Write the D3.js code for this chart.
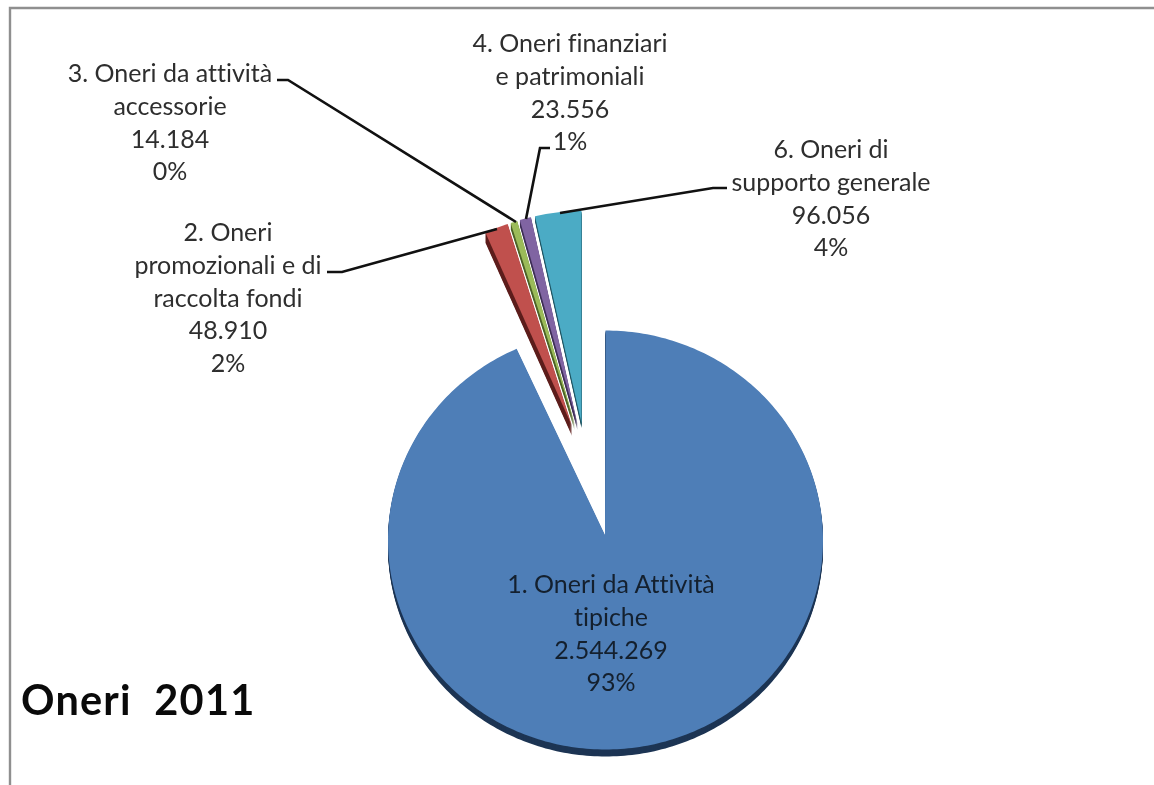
<!DOCTYPE html>
<html>
<head>
<meta charset="utf-8">
<title>Oneri 2011</title>
<script src="https://cdn.jsdelivr.net/npm/d3@7"></script>
<style>
  html, body { margin: 0; padding: 0; background: #fff; }
  svg { display: block; filter: blur(0.75px); }
  text { font-family: Lato, "Open Sans", sans-serif; font-variant-ligatures: none; }
</style>
</head>
<body>
<div id="chart"></div>
<script>
// values
var categories = [
  ['1. Oneri da Attività', 'tipiche'],
  ['2. Oneri', 'promozionali e di', 'raccolta fondi'],
  ['3. Oneri da attività', 'accessorie'],
  ['4. Oneri finanziari', 'e patrimoniali'],
  ['6. Oneri di', 'supporto generale']
];
var values = [2544269, 48910, 14184, 23556, 96056];
var percents = ['93%', '2%', '0%', '1%', '4%'];
var title = 'Oneri  2011';

var colors = ['#4e7eb7', '#c0504d', '#9bbb59', '#8064a2', '#4babc5'];
var sideColors = ['#1d3554', '#5e1f1d', '#4d6327', '#3f2f56', '#1f5563'];

var width = 1154, height = 785;

// where each exploded slice sits, and where its first label line goes
var layout = [
  { apex: [605, 535], centre: [605.5, 540], rx: 217.5, ry: 209.5, depth: 7, labelX: 611, labelY: 593 },
  { apex: [572, 426], centre: [572, 426], rx: 212, ry: 212, depth: 10, labelX: 228, labelY: 241 },
  { apex: [575, 425], centre: [575, 425], rx: 212, ry: 212, depth: 6, labelX: 170, labelY: 82 },
  { apex: [577.5, 424], centre: [577.5, 424], rx: 212, ry: 212, depth: 6, labelX: 570, labelY: 52 },
  { apex: [581.5, 423], centre: [581.5, 423], rx: 212, ry: 212, depth: 5, labelX: 831, labelY: 158 }
];
var leaders = [
  null,
  [[327, 272], [342, 272], [497, 229]],
  [[277, 80], [288, 80], [516, 222]],
  [[550, 148], [540, 148], [526, 219]],
  [[727, 188], [713, 188], [560, 213]]
];
var lineHeight = 32.8;

var fmt = d3.formatLocale({ decimal: ',', thousands: '.', grouping: [3], currency: ['', ''] }).format(',d');

var svg = d3.select('#chart').append('svg')
    .attr('width', width)
    .attr('height', height);

// frame: only top and left are visible in the picture
svg.append('path')
    .attr('d', d3.line()([[width + 5, 8], [10, 8], [10, height + 5]]))
    .attr('fill', 'none')
    .attr('stroke', '#8f8f8f')
    .attr('stroke-width', 2.4);

var slices = d3.pie().sort(null).value(function (d) { return d; })(values);

var line = d3.line();

// sector outline with its tip allowed to differ from the ellipse centre
function sector(d, l, dy) {
  var angles = d3.range(d.startAngle, d.endAngle, Math.PI / 180).concat([d.endAngle]);
  var pts = angles.map(function (a) {
    return [l.centre[0] + l.rx * Math.sin(a), l.centre[1] - l.ry * Math.cos(a) + dy];
  });
  return line([[l.apex[0], l.apex[1] + dy]].concat(pts)) + 'Z';
}

// right to left so the left slices lie on top of the sides next to them
var order = [4, 3, 2, 1, 0];
order.forEach(function (i) {
  var d = slices[i], l = layout[i];
  var g = svg.append('g').attr('class', 'slice');
  g.selectAll('path.side')
      .data(d3.range(l.depth, 0, -1))
      .enter()
      .append('path')
      .attr('class', 'side')
      .attr('d', function (k) { return sector(d, l, k); })
      .attr('fill', sideColors[i]);
  g.append('path')
      .attr('class', 'top')
      .attr('d', sector(d, l, 0))
      .attr('fill', colors[i]);
});

svg.selectAll('path.leader')
    .data(leaders.filter(Boolean))
    .enter()
    .append('path')
    .attr('class', 'leader')
    .attr('d', function (d) { return line(d); })
    .attr('fill', 'none')
    .attr('stroke', '#111')
    .attr('stroke-width', 2.6);

categories.forEach(function (name, i) {
  var rows = name.concat([fmt(values[i]), percents[i]]);
  svg.append('g').selectAll('text')
      .data(rows)
      .enter()
      .append('text')
      .attr('x', layout[i].labelX)
      .attr('y', function (d, j) { return layout[i].labelY + j * lineHeight; })
      .attr('text-anchor', 'middle')
      .attr('font-size', 25)
      .attr('fill', i === 0 ? '#14202e' : '#2e2e2e')
      .text(function (d) { return d; });
});

svg.append('text')
    .attr('x', 21)
    .attr('y', 715)
    .attr('font-size', 41.5)
    .attr('font-weight', 700)
    .attr('letter-spacing', 1.2)
    .attr('fill', '#0a0a0a')
    .style('white-space', 'pre')
    .text(title);
</script>
</body>
</html>
